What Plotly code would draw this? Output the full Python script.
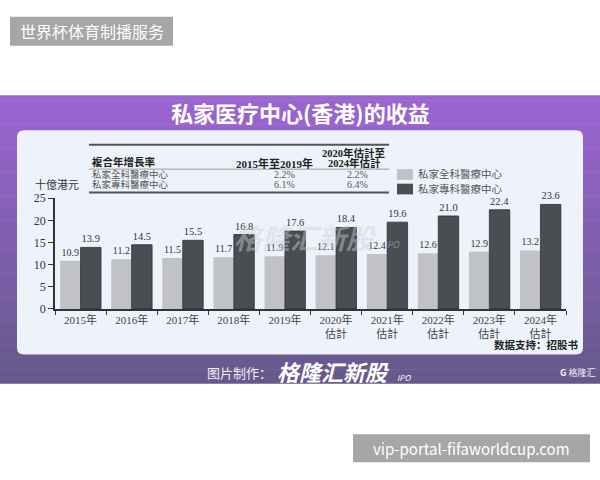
import plotly.graph_objects as go

# ---------------- data ----------------
categories = ["2015年", "2016年", "2017年", "2018年", "2019年",
              "2020年<br>估計", "2021年<br>估計", "2022年<br>估計", "2023年<br>估計", "2024年<br>估計"]
series_names = ["私家全科醫療中心", "私家專科醫療中心"]
general_rev = [10.9, 11.2, 11.5, 11.7, 11.9, 12.1, 12.4, 12.6, 12.9, 13.2]
special_rev = [13.9, 14.5, 15.5, 16.8, 17.6, 18.4, 19.6, 21.0, 22.4, 23.6]
y_ticks = [0, 5, 10, 15, 20, 25]

table_header = ["複合年增長率", "2015年至2019年", "2020年估計至", "2024年估計"]
cagr_2015_2019 = ["2.2%", "6.1%"]
cagr_2020_2024 = ["2.2%", "6.4%"]

title_text = "私家医疗中心(香港)的收益"
y_title = "十億港元"
source_text = "数据支持：招股书"

# ---------------- helpers ----------------
W, H = 600, 480
def fx(p): return p / W
def fy(p): return 1 - p / H

SERIF = "Liberation Serif, Noto Sans CJK TC, serif"
SANS = "Noto Sans CJK SC, Noto Sans, sans-serif"
LIGHT = "#c0c2c6"
DARK = "#4a4d52"

def hexmix(c1, c2, t):
    a = [int(c1[i:i+2], 16) for i in (1, 3, 5)]
    b = [int(c2[i:i+2], 16) for i in (1, 3, 5)]
    return "#" + "".join(f"{round(a[k] + (b[k]-a[k])*t):02x}" for k in range(3))

def rounded_rect(x0, y0, x1, y1, r):
    X = lambda v: f"{fx(v):.5f}"
    Y = lambda v: f"{fy(v):.5f}"
    return (f"M{X(x0+r)},{Y(y0)} L{X(x1-r)},{Y(y0)} Q{X(x1)},{Y(y0)} {X(x1)},{Y(y0+r)} "
            f"L{X(x1)},{Y(y1-r)} Q{X(x1)},{Y(y1)} {X(x1-r)},{Y(y1)} "
            f"L{X(x0+r)},{Y(y1)} Q{X(x0)},{Y(y1)} {X(x0)},{Y(y1-r)} "
            f"L{X(x0)},{Y(y0+r)} Q{X(x0)},{Y(y0)} {X(x0+r)},{Y(y0)} Z")

fig = go.Figure()
fig.add_trace(go.Bar(x=categories, y=general_rev, name=series_names[0],
                     marker=dict(color=LIGHT, line=dict(width=0)),
                     text=[f"{v:.1f}" for v in general_rev], textposition="outside",
                     textfont=dict(family=SERIF, size=10, color="#333"),
                     constraintext="none", cliponaxis=False, showlegend=False))
fig.add_trace(go.Bar(x=categories, y=special_rev, name=series_names[1],
                     marker=dict(color=DARK, line=dict(width=0.8, color="#2e3034")),
                     text=[f"{v:.1f}" for v in special_rev], textposition="outside",
                     textfont=dict(family=SERIF, size=10.5, color="#333"),
                     constraintext="none", cliponaxis=False, showlegend=False))

shapes = []
# purple gradient background
top, bot = 91, 388
n = 60
for i in range(n):
    y0 = top + (bot - top) * i / n
    y1 = top + (bot - top) * (i + 1) / n + 0.6
    c = hexmix("#9b65d2", "#65598a", i / (n - 1))
    shapes.append(dict(type="rect", xref="paper", yref="paper", layer="below",
                       x0=0, x1=1, y0=fy(min(y1, bot)), y1=fy(y0),
                       fillcolor=c, line=dict(width=0)))
# white panel
shapes.append(dict(type="path", xref="paper", yref="paper", layer="below",
                   path=rounded_rect(17, 127, 583, 358, 7),
                   fillcolor="#eef3fb", line=dict(width=0)))
# top-left gray label box
shapes.append(dict(type="rect", xref="paper", yref="paper", layer="below",
                   x0=fx(10), x1=fx(173), y0=fy(40), y1=fy(10),
                   fillcolor="#a6a6a6", line=dict(width=0)))
# bottom-right gray box
shapes.append(dict(type="rect", xref="paper", yref="paper", layer="above",
                   x0=fx(353), x1=fx(590), y0=fy(469), y1=fy(440),
                   fillcolor="#a6a6a6", line=dict(width=0)))
# table lines
for yy, w, col in [(142, 2, "#555"), (167, 1, "#999"), (191, 2, "#555")]:
    shapes.append(dict(type="line", xref="paper", yref="paper",
                       x0=fx(89), x1=fx(389), y0=fy(yy), y1=fy(yy),
                       line=dict(width=w, color=col)))
# legend squares
for (y0, y1), col in zip([(167, 178), (182, 193)], [LIGHT, DARK]):
    shapes.append(dict(type="rect", xref="paper", yref="paper",
                       x0=fx(397), x1=fx(413), y0=fy(y1), y1=fy(y0),
                       fillcolor=col, line=dict(width=0)))

ann = []
def A(text, x, y, size, color="#333", family=SERIF, xanchor="center", bold=False, italic=False, **kw):
    t = text
    if bold: t = f"<b>{t}</b>"
    if italic: t = f"<i>{t}</i>"
    ann.append(dict(text=t, x=fx(x), y=fy(y), xref="paper", yref="paper", showarrow=False,
                    xanchor=xanchor, yanchor="middle",
                    font=dict(size=size, color=color, family=family), **kw))

A("世界杯体育制播服务", 91.5, 25, 16, "white", SANS)
A("vip-portal-fifaworldcup.com", 471, 455, 15, "white", SANS)
A(title_text, 300, 108, 22, "white", SANS, bold=True)
# watermark
A("格隆汇新股", 305, 237, 28, "rgba(205,208,214,0.45)", SANS, bold=True, italic=True)
A("IPO", 392, 245, 9, "rgba(205,208,214,0.5)", SANS, italic=True)
# table
A(table_header[0], 90, 160, 10.5, "#222", SERIF, xanchor="left", bold=True)
A(table_header[1], 315, 161, 11, "#222", SERIF, xanchor="right", bold=True)
A(table_header[2], 354, 150, 10.5, "#222", SERIF, bold=True)
A(table_header[3], 354, 161, 10.5, "#222", SERIF, bold=True)
for i, yy in enumerate([173, 183]):
    A(series_names[i], 90, yy, 9.5, "#555", SERIF, xanchor="left")
    A(cagr_2015_2019[i], 284, yy, 10, "#555", SERIF)
    A(cagr_2020_2024[i], 357, yy, 10, "#555", SERIF)
# legend text
A(series_names[0], 416, 172, 10.5, "#555", SERIF, xanchor="left")
A(series_names[1], 416, 187, 10.5, "#555", SERIF, xanchor="left")
# y title
A(y_title, 57, 183, 11, "#333", SERIF)
# source
A(source_text, 536, 348, 10.5, "#222", SANS, bold=True)
# bottom strip
A("图片制作：", 239, 376, 13, "#f2eef8", SANS)
A("格隆汇新股", 333, 375, 22, "white", SANS, bold=True, italic=True)
A("IPO", 404, 382, 8, "white", SANS, italic=True)
A("<b>G</b> 格隆汇", 597, 376, 9, "#f2eef8", SANS, xanchor="right")

fig.update_layout(
    width=W, height=H, margin=dict(l=0, r=0, t=0, b=0),
    paper_bgcolor="white", plot_bgcolor="rgba(0,0,0,0)",
    barmode="group", bargap=0.2, bargroupgap=0,
    shapes=shapes, annotations=ann, showlegend=False,
    xaxis=dict(domain=[fx(55), fx(566)], type="category", range=[-0.5, 9.5],
               showline=True, linecolor="#333", linewidth=1.5,
               ticks="outside", tickson="boundaries", ticklen=4, tickcolor="#333",
               tickfont=dict(family=SERIF, size=11, color="#444"),
               showgrid=False, fixedrange=True),
    yaxis=dict(domain=[fy(311), fy(197)], range=[0, 25], tickvals=y_ticks,
               showline=True, linecolor="#333", linewidth=1.5,
               ticks="outside", ticklen=5, tickcolor="#333",
               tickfont=dict(family=SERIF, size=12, color="#333"),
               showgrid=False, zeroline=False, fixedrange=True),
)

fig.write_html("out.html")
